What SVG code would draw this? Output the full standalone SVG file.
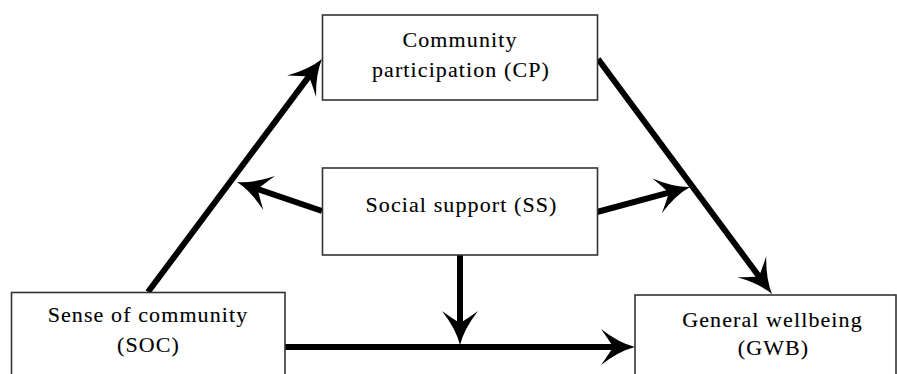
<svg xmlns="http://www.w3.org/2000/svg" width="897" height="374" viewBox="0 0 897 374">
  <style>
    .box { fill: #ffffff; stroke: #333333; stroke-width: 1.6; }
    .lbl { font-family: "Liberation Serif", "Times New Roman", serif; font-size: 22px; letter-spacing: 1.1px; fill: #000000; stroke: #000000; stroke-width: 0.12; text-anchor: middle; }
    .conn { stroke: #000000; stroke-width: 6; fill: none; marker-end: url(#arrow); }
  </style>
  <defs>
    <marker id="arrow" markerUnits="userSpaceOnUse" viewBox="-20 -20 40 40" markerWidth="40" markerHeight="40" refX="0" refY="0" orient="auto" overflow="visible">
      <path d="M18,0 Q2,-4 -16,-18 Q-8,-7 -4,0 Q-8,7 -16,18 Q2,4 18,0 Z" fill="#000000"/>
    </marker>
  </defs>
  <rect width="897" height="374" fill="#ffffff"/>

  <g id="connectors">
    <line class="conn" x1="148" y1="292" x2="311.2" y2="73.4"/>
    <line class="conn" x1="598" y1="59" x2="761.3" y2="279.5"/>
    <line class="conn" x1="322" y1="211" x2="254" y2="187.8"/>
    <line class="conn" x1="597" y1="212" x2="672.6" y2="191.7"/>
    <line class="conn" x1="460" y1="255" x2="460" y2="327"/>
    <line class="conn" x1="285" y1="347" x2="617" y2="347"/>
  </g>

  <g id="node-cp">
    <rect class="box" x="322.5" y="15" width="275" height="85"/>
    <text class="lbl" x="460" y="47">Community</text>
    <text class="lbl" x="461" y="77">participation (CP)</text>
  </g>

  <g id="node-ss">
    <rect class="box" x="322.5" y="168" width="275" height="87"/>
    <text class="lbl" x="461.5" y="212">Social support (SS)</text>
  </g>

  <g id="node-soc">
    <rect class="box" x="11.5" y="292.5" width="273.5" height="90"/>
    <text class="lbl" x="148" y="322">Sense of community</text>
    <text class="lbl" x="148.5" y="352">(SOC)</text>
  </g>

  <g id="node-gwb">
    <rect class="box" x="635" y="295" width="261" height="90"/>
    <text class="lbl" x="772.5" y="327">General wellbeing</text>
    <text class="lbl" x="773.5" y="355">(GWB)</text>
  </g>
</svg>
